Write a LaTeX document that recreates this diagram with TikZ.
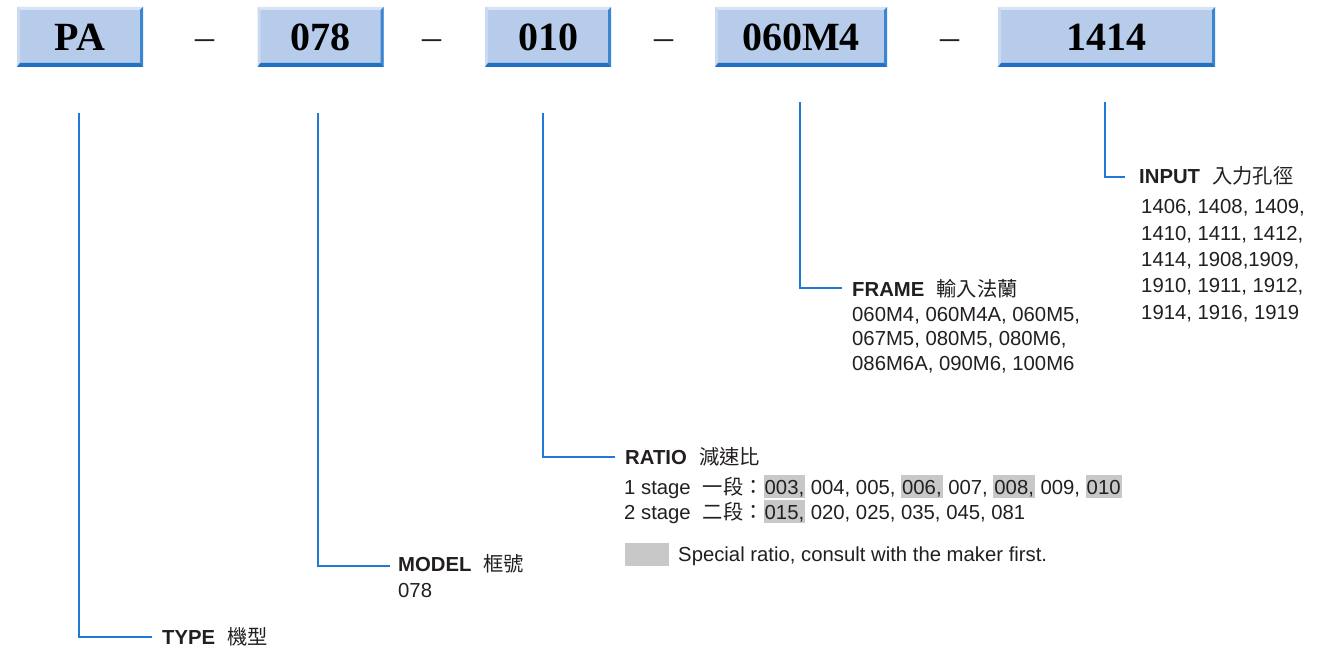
\documentclass[tikz,border=0pt]{standalone}
\usepackage{fontspec}
\setmainfont{Liberation Sans}
\newfontfamily\cjk{Noto Sans CJK TC}
\newfontfamily\bxfont{Liberation Serif}
\usetikzlibrary{calc}
\definecolor{txt}{HTML}{231F20}
\definecolor{connblue}{HTML}{1F7AD6}
\definecolor{face}{HTML}{B6CCEA}
\definecolor{bvtop}{HTML}{D8E4F5}
\definecolor{bvleft}{HTML}{CBDAF0}
\definecolor{bvright}{HTML}{3C86D1}
\definecolor{bvbot}{HTML}{2070C4}
\definecolor{hlgray}{HTML}{C8C8C8}
\newcommand\hlnum[1]{{\setlength\fboxsep{0pt}\colorbox{hlgray}{\rule[-4pt]{0pt}{23pt}\kern1pt#1\kern1pt}}}
\tikzset{
  conline/.style={draw=connblue, line width=2pt},
  pbox/.style={fill=face, minimum height=60pt, inner sep=0pt, text=black,
    font=\bxfont\bfseries\fontsize{40}{42}\selectfont,
    path picture={
      \fill[bvtop] (path picture bounding box.north west) -- (path picture bounding box.north east)
        -- ([shift={(-3pt,-3pt)}]path picture bounding box.north east) -- ([shift={(3pt,-3pt)}]path picture bounding box.north west) -- cycle;
      \fill[bvleft] (path picture bounding box.north west) -- ([shift={(3pt,-3pt)}]path picture bounding box.north west)
        -- ([shift={(3pt,4pt)}]path picture bounding box.south west) -- (path picture bounding box.south west) -- cycle;
      \fill[bvright] (path picture bounding box.north east) -- ([shift={(-3pt,-3pt)}]path picture bounding box.north east)
        -- ([shift={(-3pt,4pt)}]path picture bounding box.south east) -- (path picture bounding box.south east) -- cycle;
      \fill[bvbot] (path picture bounding box.south west) -- ([shift={(3pt,4pt)}]path picture bounding box.south west)
        -- ([shift={(-3pt,4pt)}]path picture bounding box.south east) -- (path picture bounding box.south east) -- cycle;
    }},
  dashtxt/.style={anchor=base, inner sep=0pt, text=txt, font=\bxfont\fontsize{38}{40}\selectfont},
  lbl/.style={anchor=base west, inner sep=0pt, text=txt, font=\fontsize{20.3}{24}\selectfont},
  hdr/.style={anchor=base west, inner sep=0pt, text=txt, font=\fontsize{20.3}{24}\selectfont\bfseries},
  legendbox/.style={fill=hlgray, draw=none},
}
\newcommand\cj[1]{{\mdseries\cjk #1}}
\begin{document}
\begin{tikzpicture}[x=1pt,y=-1pt]
\useasboundingbox (0,0) rectangle (1335,647);
\fill[white] (0,0) rectangle (1335,647);

% code boxes
\node[pbox, minimum width=126pt] (pa) at (80,37) {PA};
\node[pbox, minimum width=126pt] (m078) at (320.5,37) {078};
\node[pbox, minimum width=126pt] (r010) at (548,37) {010};
\node[pbox, minimum width=172pt] (f060) at (801,37) {060M4};
\node[pbox, minimum width=217pt] (i1414) at (1106.5,37) {1414};

% dashes
\node[dashtxt] (d1) at (205,50) {–};
\node[dashtxt] (d2) at (432,50) {–};
\node[dashtxt] (d3) at (664,50) {–};
\node[dashtxt] (d4) at (950,50) {–};

% connector start points
\coordinate (cA) at (79,113);
\coordinate (cB) at (318,113);
\coordinate (cC) at (543,113);
\coordinate (cD) at (800,102);
\coordinate (cE) at (1105,102);

% TYPE
\node[hdr] (typeL) at (162,644) {TYPE\hspace{0.6em}\cj{機型}};
% MODEL
\node[hdr] (modelL) at (398,571) {MODEL\hspace{0.6em}\cj{框號}};
\node[lbl] (modelV) at (398,597) {078};
% RATIO
\node[hdr] (ratioL) at (625,464) {RATIO\hspace{0.6em}\cj{減速比}};
\node[lbl] (ratio1) at (624,494) {1 stage\hspace{12pt}\cj{一段：}\hlnum{003,} 004, 005, \hlnum{006,} 007, \hlnum{008,} 009, \hlnum{010}};
\node[lbl] (ratio2) at (624,519) {2 stage\hspace{12pt}\cj{二段：}\hlnum{015,} 020, 025, 035, 045, 081};
\node[legendbox, minimum width=44pt, minimum height=23pt, inner sep=0pt] (legend) at (647,554.5) {};
\node[lbl] (legendT) at (678,561) {Special ratio, consult with the maker first.};
% FRAME
\node[hdr] (frameL) at (852,296) {FRAME\hspace{0.6em}\cj{輸入法蘭}};
\node[lbl] (frame1) at (852,321) {060M4, 060M4A, 060M5,};
\node[lbl] (frame2) at (852,345) {067M5, 080M5, 080M6,};
\node[lbl] (frame3) at (852,370) {086M6A, 090M6, 100M6};
% INPUT
\node[hdr] (inputL) at (1139,183) {INPUT\hspace{0.6em}\cj{入力孔徑}};
\node[lbl] (input1) at (1141,213) {1406, 1408, 1409,};
\node[lbl] (input2) at (1141,240) {1410, 1411, 1412,};
\node[lbl] (input3) at (1141,266) {1414, 1908,1909,};
\node[lbl] (input4) at (1141,292) {1910, 1911, 1912,};
\node[lbl] (input5) at (1141,319) {1914, 1916, 1919};

% connectors
\draw[conline] (cA) |- ($(typeL.base west)+(-10,-7)$);
\draw[conline] (cB) |- ($(modelL.base west)+(-8,-5)$);
\draw[conline] (cC) |- ($(ratioL.base west)+(-10,-7)$);
\draw[conline] (cD) |- ($(frameL.base west)+(-10,-8)$);
\draw[conline] (cE) |- ($(inputL.base west)+(-14,-6)$);
\end{tikzpicture}
\end{document}
